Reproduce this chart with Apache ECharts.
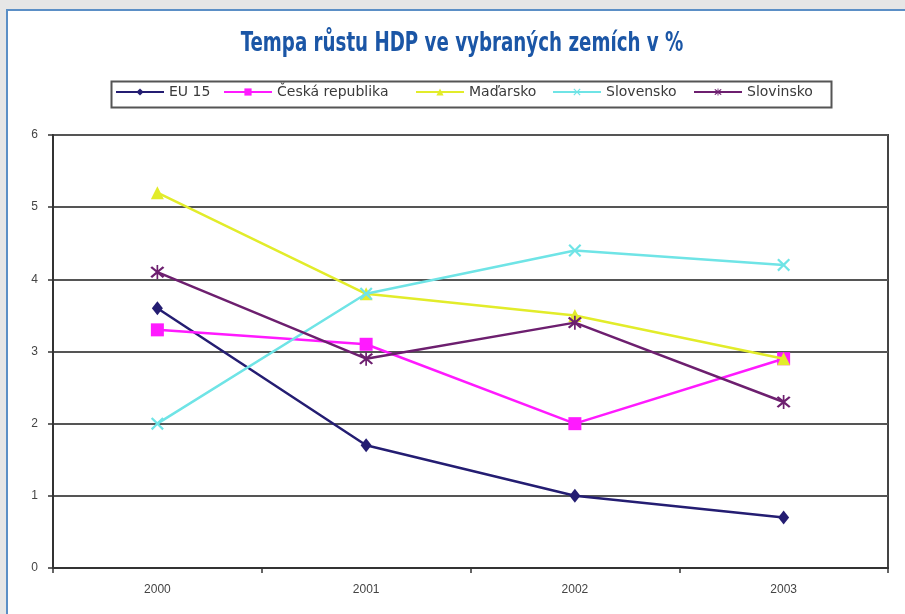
<!DOCTYPE html>
<html>
<head>
<meta charset="utf-8">
<script src="https://cdn.jsdelivr.net/npm/echarts@6/dist/echarts.min.js"></script>
<style>
html,body{margin:0;padding:0;background:#e6e6e6;width:905px;height:614px;overflow:hidden;}
#panel{position:absolute;left:6px;top:9px;width:950px;height:700px;background:#fff;border-left:2px solid #5b8fc6;border-top:2px solid #5b8fc6;}
#chart{position:absolute;left:0;top:0;width:905px;height:614px;}
</style>
</head>
<body>
<div id="panel"></div>
<div id="chart"></div>
<script>
const titleText = 'Tempa růstu HDP ve vybraných zemích v %';
const years = ['2000', '2001', '2002', '2003'];
const seriesNames = ['EU 15', 'Česká republika', 'Maďarsko', 'Slovensko', 'Slovinsko'];
const eu15 = [3.6, 1.7, 1.0, 0.7];
const cesko = [3.3, 3.1, 2.0, 2.9];
const madarsko = [5.2, 3.8, 3.5, 2.9];
const slovensko = [2.0, 3.8, 4.4, 4.2];
const slovinsko = [4.1, 2.9, 3.4, 2.3];
const yTicks = [0, 1, 2, 3, 4, 5, 6];

const colors = ['#241d72', '#ff1aff', '#e2ec2a', '#6fe4e6', '#6d1f6f'];
const xPath = 'path://M0,1.2L1.2,0L5,3.8L8.8,0L10,1.2L6.2,5L10,8.8L8.8,10L5,6.2L1.2,10L0,8.8L3.8,5Z';
const starPath = 'path://M0,1.2L1.2,0L5,3.8L8.8,0L10,1.2L6.2,5L10,8.8L8.8,10L5,6.2L1.2,10L0,8.8L3.8,5ZM4.4,-1H5.6V11H4.4Z';
const symbols = ['diamond', 'rect', 'triangle', xPath, starPath];
const symbolSizes = [[11, 14], 13, 13, 13, 14];
const dataSets = [eu15, cesko, madarsko, slovensko, slovinsko];
const legendLefts = [115, 223, 415, 552, 693];

const chart = echarts.init(document.getElementById('chart'), null, {renderer: 'canvas'});
const option = {
  backgroundColor: 'transparent',
  animation: false,
  graphic: [{
    type: 'rect', left: 109, top: 79,
    shape: {width: 720, height: 26},
    style: {fill: 'none', stroke: '#555', lineWidth: 2}
  }, {
    type: 'text', x: 462, y: 31, scaleX: 0.78,
    style: {
      text: titleText, align: 'center', verticalAlign: 'top',
      font: 'bold 26px "DejaVu Sans Condensed", "DejaVu Sans"', fill: '#1b56a6'
    }
  }],
  legend: seriesNames.map((n, i) => ({
    data: [n], left: legendLefts[i], top: 85,
    padding: 0,
    itemWidth: 48, itemHeight: 9,
    textStyle: {fontFamily: 'DejaVu Sans', fontSize: 14, color: '#3a3a3a'},
    selectedMode: false
  })),
  grid: {left: 53, right: 17, top: 135, bottom: 46, show: true, borderColor: '#444', borderWidth: 2, containLabel: false},
  xAxis: {
    type: 'category', data: years, boundaryGap: true,
    axisLine: {lineStyle: {color: '#333', width: 2}},
    axisTick: {show: true, inside: false, length: 5, lineStyle: {color: '#333', width: 1.5}},
    axisLabel: {margin: 16, color: '#444', fontFamily: 'Liberation Sans', fontSize: 12}
  },
  yAxis: {
    type: 'value', min: yTicks[0], max: yTicks[yTicks.length - 1], interval: 1,
    axisLine: {show: true, lineStyle: {color: '#333', width: 2}},
    axisTick: {show: true, length: 5, lineStyle: {color: '#333', width: 1.5}},
    axisLabel: {margin: 15, color: '#444', fontFamily: 'Liberation Sans', fontSize: 12},
    splitLine: {lineStyle: {color: '#555', width: 2}}
  },
  series: seriesNames.map((n, i) => ({
    name: n, type: 'line', data: dataSets[i],
    symbol: symbols[i], symbolSize: symbolSizes[i], showSymbol: true,
    lineStyle: {color: colors[i], width: 2.5},
    itemStyle: {color: colors[i]},
    z: 2 + i
  }))
};
chart.setOption(option);
</script>
</body>
</html>
